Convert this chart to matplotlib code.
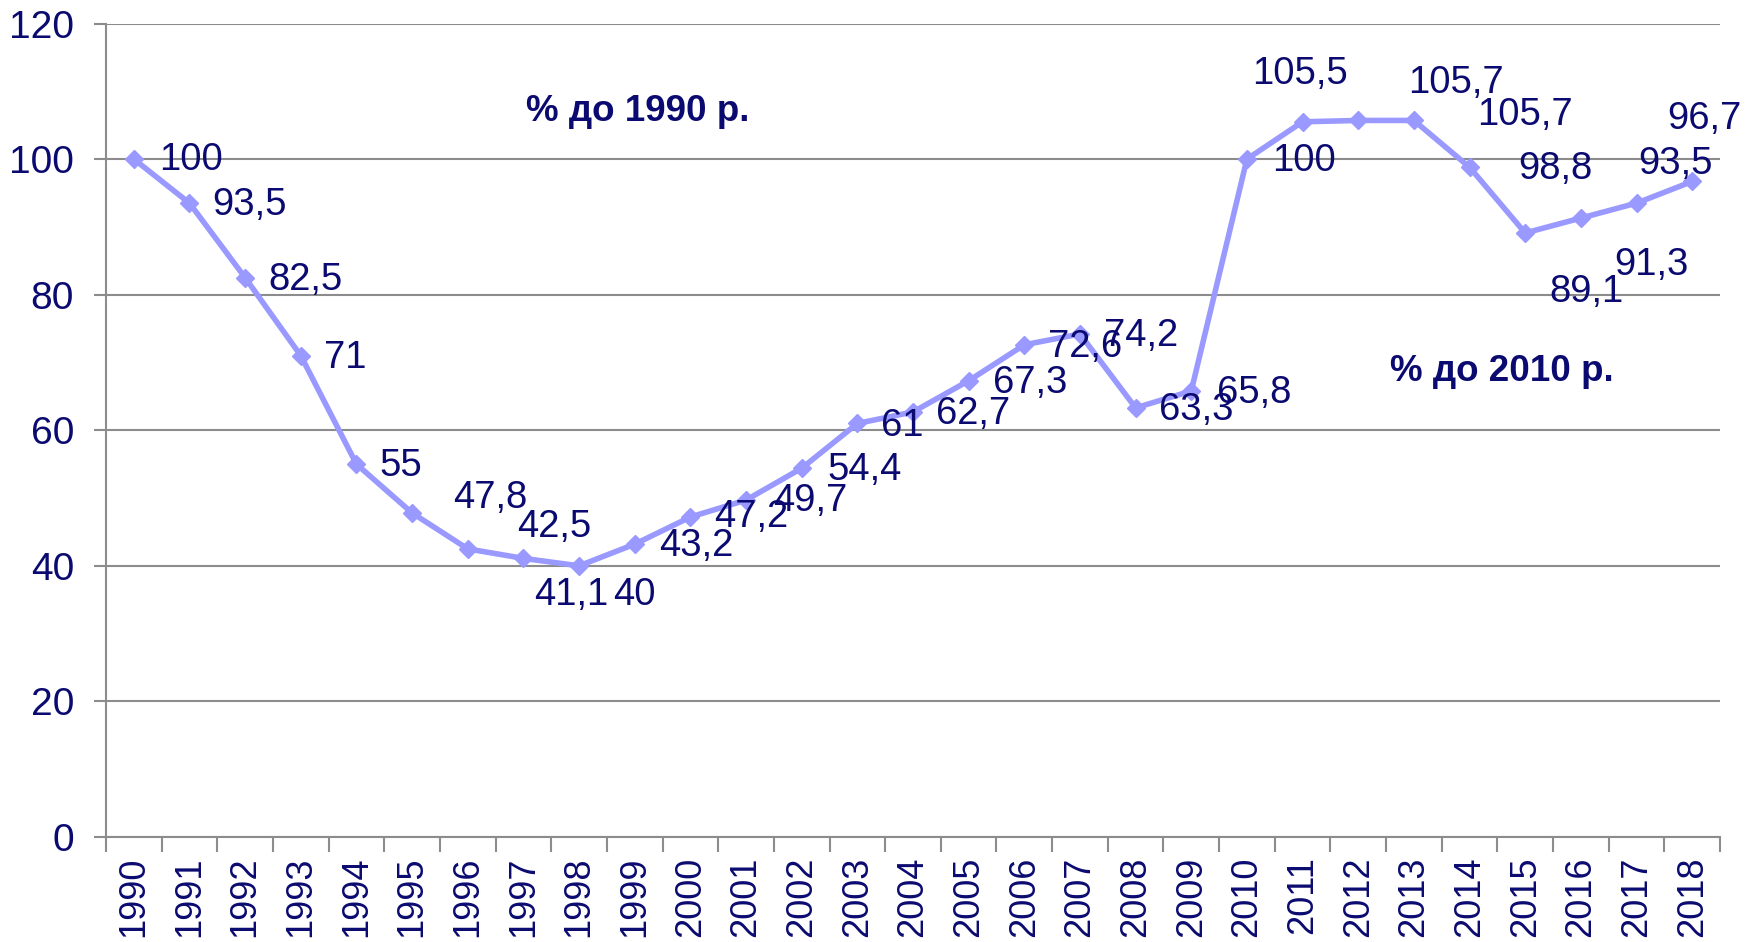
import numpy as np
import matplotlib
matplotlib.use("Agg")
import matplotlib.pyplot as plt

plt.rcParams['font.family'] = ['Liberation Sans', 'DejaVu Sans']

# Дані: % до базового року
years = [str(y) for y in range(1990, 2019)]
values = [100, 93.5, 82.5, 71, 55, 47.8, 42.5, 41.1, 40, 43.2, 47.2, 49.7, 54.4, 61,
          62.7, 67.3, 72.6, 74.2, 63.3, 65.8, 100, 105.5, 105.7, 105.7, 98.8, 89.1,
          91.3, 93.5, 96.7]
labels = ["100", "93,5", "82,5", "71", "55", "47,8", "42,5", "41,1", "40", "43,2",
          "47,2", "49,7", "54,4", "61", "62,7", "67,3", "72,6", "74,2", "63,3", "65,8",
          "100", "105,5", "105,7", "105,7", "98,8", "89,1", "91,3", "93,5", "96,7"]
yticks = [0, 20, 40, 60, 80, 100, 120]

# зсуви підписів (в пунктах)
offsets = [(41, -1), (43.5, -1), (43.5, -1.6), (32, -1.6), (32, -1), (56, 10.5),
           (62, 16), (34.6, -26.6), (39.5, -21), (44, -1.6), (44, 0), (46, -1),
           (45, -1), (32, -1.6), (43.5, -1.6), (44, -1.6), (44, -1.6), (44, -1.6),
           (44, -1.6), (45, -1.6), (41, -1.6), (-1.6, 34.6), (70, 26.6), (80, 4),
           (62, -1.6), (44, -42.7), (50.7, -33.8), (28, 28), (9, 45)]

navy = '#0a0a70'
line_c = '#9999ff'
grid_c = '#8c8c8c'

fig = plt.figure(figsize=(17.54, 9.42), dpi=100)
ax = fig.add_axes([106 / 1754, 1 - 837 / 942, (1720 - 106) / 1754, (837 - 23.5) / 942])

x = np.arange(len(years)) + 0.5
ax.plot(x, values, color=line_c, linewidth=4, marker='D', markersize=9.5, zorder=3)

for xi, v, lab, (dx, dy) in zip(x, values, labels, offsets):
    ax.annotate(lab, (xi, v), xytext=(dx, dy), textcoords='offset points',
                ha='center', va='center', fontsize=27.5, color=navy, zorder=4)

ax.text(9.55, 107, '% до 1990 р.', fontsize=26.5, fontweight='bold', color=navy,
        ha='center', va='center')
ax.text(25.08, 68.7, '% до 2010 р.', fontsize=26.5, fontweight='bold', color=navy,
        ha='center', va='center')

ax.set_xlim(0, len(years))
ax.set_ylim(0, 120)
ax.set_yticks(yticks)
ax.set_yticklabels([str(t) for t in yticks])
ax.yaxis.grid(True, color=grid_c, linewidth=1.5)
ax.set_axisbelow(True)

ax.set_xticks(x)
ax.set_xticklabels(years, rotation=90)
ax.set_xticks(np.arange(len(years) + 1), minor=True)
ax.tick_params(axis='x', which='major', length=0, pad=14, labelsize=26, labelcolor=navy)
ax.tick_params(axis='x', which='minor', length=11, width=1.5, color=grid_c)
ax.tick_params(axis='y', length=9, width=1.5, color=grid_c, pad=14, labelsize=28,
               labelcolor=navy)

for s in ['top', 'right']:
    ax.spines[s].set_visible(False)
for s in ['left', 'bottom']:
    ax.spines[s].set_color(grid_c)
    ax.spines[s].set_linewidth(1.5)

fig.savefig('out.png', dpi=100)
